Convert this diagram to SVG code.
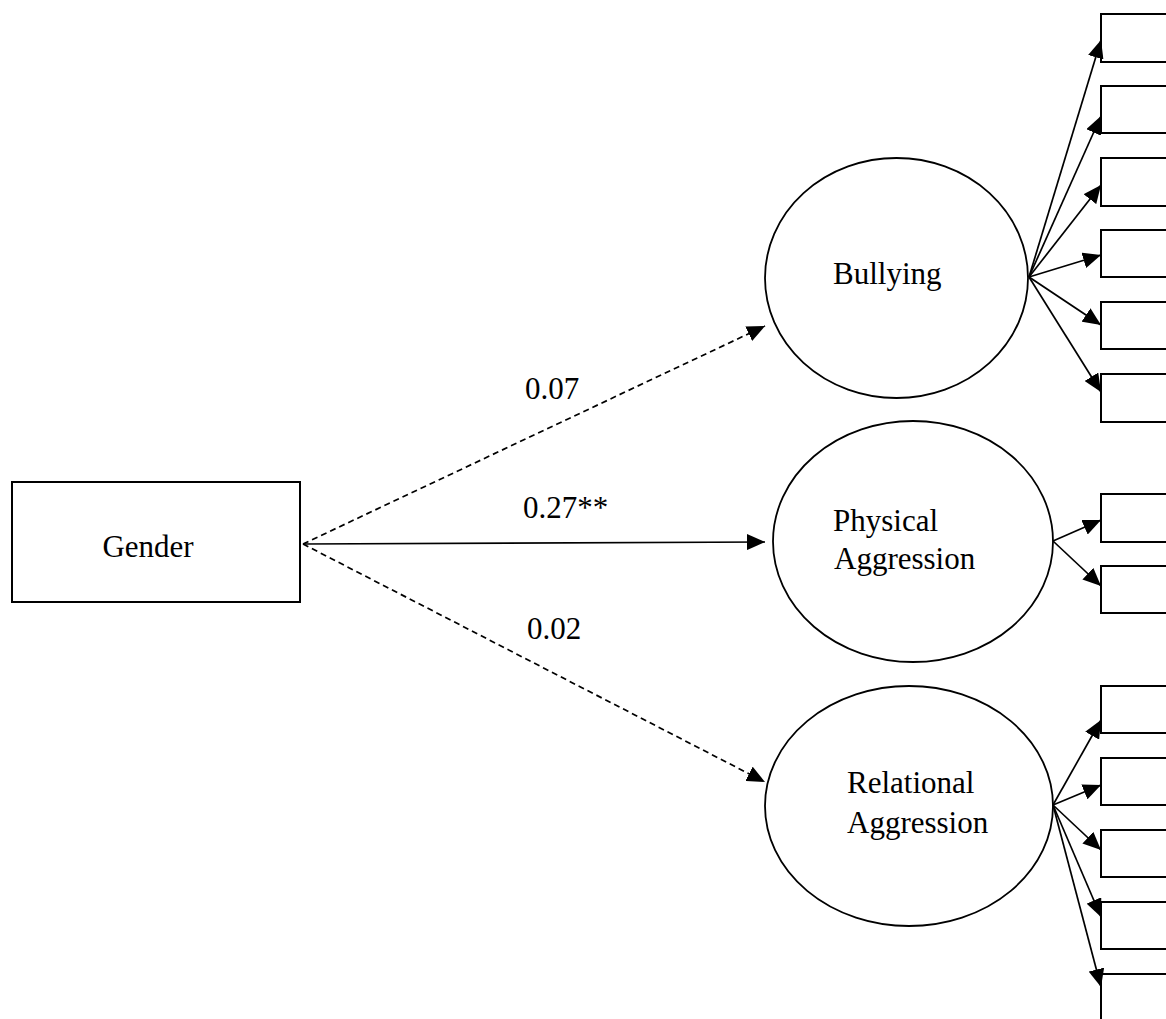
<svg xmlns="http://www.w3.org/2000/svg" width="1166" height="1019" viewBox="0 0 1166 1019">
<style>
.box{fill:#fff;stroke:#000;stroke-width:2}
.lat{fill:#fff;stroke:#000;stroke-width:1.8}
.t{font-family:"Liberation Serif","Times New Roman",serif;font-size:31px;fill:#000}
.c{stroke:#000;stroke-width:1.7;fill:none;marker-end:url(#ah)}
.d{stroke-dasharray:6 4}
</style>
<defs>
<marker id="ah" markerUnits="userSpaceOnUse" markerWidth="18" markerHeight="16" refX="18" refY="8" orient="auto" viewBox="0 0 18 16">
<path d="M0,0 L18,8 L0,16 z" fill="#000"/>
</marker>
</defs>
<rect width="1166" height="1019" fill="#fff"/>
<g id="gender"><rect class="box" x="12" y="482" width="288" height="120"/><text class="t" x="148" y="557" text-anchor="middle">Gender</text></g>
<g id="bullying"><ellipse class="lat" cx="896.5" cy="278" rx="131.5" ry="120"/><text class="t" x="833" y="284">Bullying</text></g>
<g id="physical"><ellipse class="lat" cx="913" cy="541.5" rx="140" ry="120.5"/><text class="t" x="833" y="531">Physical</text><text class="t" x="834" y="569">Aggression</text></g>
<g id="relational"><ellipse class="lat" cx="909" cy="806" rx="144" ry="120"/><text class="t" x="847" y="793">Relational</text><text class="t" x="847" y="833">Aggression</text></g>
<g id="b1"><rect class="box" x="1101" y="14" width="100" height="48"/></g>
<g id="b2"><rect class="box" x="1101" y="86" width="100" height="47"/></g>
<g id="b3"><rect class="box" x="1101" y="158" width="100" height="48"/></g>
<g id="b4"><rect class="box" x="1101" y="230" width="100" height="47"/></g>
<g id="b5"><rect class="box" x="1101" y="302" width="100" height="47"/></g>
<g id="b6"><rect class="box" x="1101" y="374" width="100" height="48"/></g>
<g id="p1"><rect class="box" x="1101" y="494" width="100" height="48"/></g>
<g id="p2"><rect class="box" x="1101" y="566" width="100" height="47"/></g>
<g id="r1"><rect class="box" x="1101" y="686" width="100" height="47"/></g>
<g id="r2"><rect class="box" x="1101" y="758" width="100" height="47"/></g>
<g id="r3"><rect class="box" x="1101" y="830" width="100" height="47"/></g>
<g id="r4"><rect class="box" x="1101" y="902" width="100" height="47"/></g>
<g id="r5"><rect class="box" x="1101" y="974" width="100" height="60"/></g>
<g id="connectors">
<line class="c d" x1="303" y1="544" x2="765" y2="326"/>
<line class="c" x1="303" y1="544" x2="765" y2="542"/>
<line class="c d" x1="303" y1="544" x2="765" y2="782"/>
<line class="c" x1="1029" y1="277" x2="1101" y2="40"/>
<line class="c" x1="1029" y1="277" x2="1101" y2="116"/>
<line class="c" x1="1029" y1="277" x2="1101" y2="185"/>
<line class="c" x1="1029" y1="277" x2="1101" y2="255"/>
<line class="c" x1="1029" y1="277" x2="1101" y2="325"/>
<line class="c" x1="1029" y1="277" x2="1101" y2="392"/>
<line class="c" x1="1053" y1="541" x2="1101" y2="520"/>
<line class="c" x1="1053" y1="541" x2="1101" y2="586"/>
<line class="c" x1="1053" y1="805" x2="1101" y2="720"/>
<line class="c" x1="1053" y1="805" x2="1101" y2="785"/>
<line class="c" x1="1053" y1="805" x2="1101" y2="850"/>
<line class="c" x1="1053" y1="805" x2="1101" y2="917"/>
<line class="c" x1="1053" y1="805" x2="1101" y2="987"/>
<text class="t" x="525" y="399">0.07</text>
<text class="t" x="523" y="518">0.27**</text>
<text class="t" x="527" y="639">0.02</text>
</g>
</svg>
